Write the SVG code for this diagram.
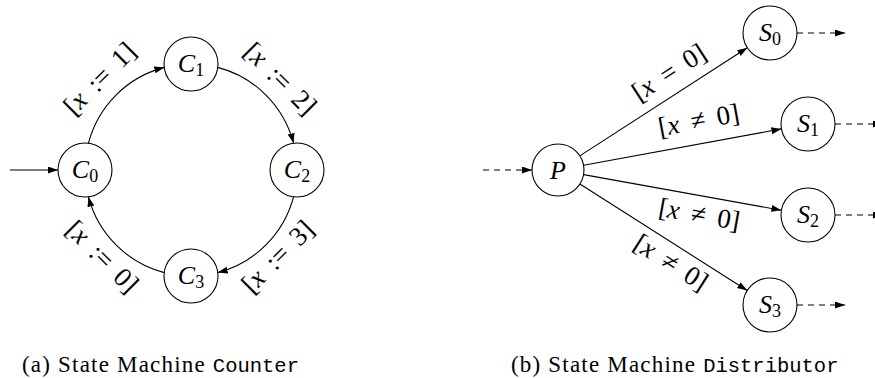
<svg xmlns="http://www.w3.org/2000/svg" width="875" height="378" viewBox="0 0 875 378">
<style>
.node circle{fill:#fff;stroke:#000;stroke-width:1.1}
.lbl{font-family:"Liberation Serif","DejaVu Serif",serif;font-size:27px;fill:#000}
.nl{font-family:"Liberation Serif","DejaVu Serif",serif;font-size:26px;fill:#000}
.it{font-style:italic}
.sub{font-size:18px}
.edge{fill:none;stroke:#000;stroke-width:1.1;marker-end:url(#arr)}
.dash{stroke-dasharray:6 5}
.cap{font-family:"Liberation Serif","DejaVu Serif",serif;font-size:23px;letter-spacing:1.2px;fill:#000}
.tt{font-family:"Liberation Mono","DejaVu Sans Mono",monospace;font-size:20.5px;letter-spacing:0}
</style>
<defs>
<marker id="arr" markerUnits="userSpaceOnUse" markerWidth="11" markerHeight="8" refX="10" refY="3.5" orient="auto">
<path d="M0,0 L10,3.5 L0,7 Z" fill="#000"/>
</marker>
</defs>
<g id="connectors">
<path class="edge" d="M10,170 L58,170"/>
<path class="edge" d="M88.4,143.3 A106,106 0 0 1 164.3,67.4"/>
<path class="edge" d="M217.7,67.4 A106,106 0 0 1 293.6,143.3"/>
<path class="edge" d="M293.6,196.7 A106,106 0 0 1 217.7,272.6"/>
<path class="edge" d="M164.3,272.6 A106,106 0 0 1 88.4,196.7"/>
<path class="edge dash" d="M483,170 L532,170"/>
<path class="edge" d="M579.8,155.9 L747.3,47.7"/>
<path class="edge" d="M583.6,165.3 L781.4,128.9"/>
<path class="edge" d="M583.6,174.6 L781.4,210.2"/>
<path class="edge" d="M579.9,184 L747.2,290.5"/>
<path class="edge dash" d="M797,33 L845,33"/>
<path class="edge dash" d="M835,124 L883,124"/>
<path class="edge dash" d="M835,215 L883,215"/>
<path class="edge dash" d="M797,305 L845,305"/>
<g class="lbl" text-anchor="middle" word-spacing="5">
<text transform="translate(101,80) rotate(-45)" y="7">[<tspan class="it">x</tspan> := 1]</text>
<text transform="translate(279,80) rotate(45)" y="7">[<tspan class="it">x</tspan> := 2]</text>
<text transform="translate(279,258) rotate(-45)" y="7">[<tspan class="it">x</tspan> := 3]</text>
<text transform="translate(101,258) rotate(45)" y="7">[<tspan class="it">x</tspan> := 0]</text>
<text transform="translate(670,74) rotate(-32.9)" y="7">[<tspan class="it">x</tspan> = 0]</text>
<text transform="translate(699,122) rotate(-10.4)" y="7">[<tspan class="it">x</tspan> ≠ 0]</text>
<text transform="translate(699,216) rotate(10.2)" y="7">[<tspan class="it">x</tspan> ≠ 0]</text>
<text transform="translate(670,264) rotate(32.5)" y="7">[<tspan class="it">x</tspan> ≠ 0]</text>
</g>
</g>
<g id="C0" class="node"><circle cx="85" cy="170" r="27"/><text class="nl" x="85" y="178" text-anchor="middle"><tspan class="it">C</tspan><tspan class="sub" dy="4">0</tspan></text></g>
<g id="C1" class="node"><circle cx="191" cy="64" r="27"/><text class="nl" x="191" y="72" text-anchor="middle"><tspan class="it">C</tspan><tspan class="sub" dy="4">1</tspan></text></g>
<g id="C2" class="node"><circle cx="297" cy="170" r="27"/><text class="nl" x="297" y="178" text-anchor="middle"><tspan class="it">C</tspan><tspan class="sub" dy="4">2</tspan></text></g>
<g id="C3" class="node"><circle cx="191" cy="276" r="27"/><text class="nl" x="191" y="284" text-anchor="middle"><tspan class="it">C</tspan><tspan class="sub" dy="4">3</tspan></text></g>
<g id="P" class="node"><circle cx="558" cy="170" r="26"/><text class="nl it" x="558" y="179" text-anchor="middle">P</text></g>
<g id="S0" class="node"><circle cx="770" cy="33" r="27"/><text class="nl" x="770" y="41" text-anchor="middle"><tspan class="it">S</tspan><tspan class="sub" dy="4">0</tspan></text></g>
<g id="S1" class="node"><circle cx="808" cy="124" r="27"/><text class="nl" x="808" y="132" text-anchor="middle"><tspan class="it">S</tspan><tspan class="sub" dy="4">1</tspan></text></g>
<g id="S2" class="node"><circle cx="808" cy="215" r="27"/><text class="nl" x="808" y="223" text-anchor="middle"><tspan class="it">S</tspan><tspan class="sub" dy="4">2</tspan></text></g>
<g id="S3" class="node"><circle cx="770" cy="305" r="27"/><text class="nl" x="770" y="313" text-anchor="middle"><tspan class="it">S</tspan><tspan class="sub" dy="4">3</tspan></text></g>
<g id="captions">
<text class="cap" x="22" y="372">(a) State Machine <tspan class="tt">Counter</tspan></text>
<text class="cap" x="511" y="372">(b) State Machine <tspan class="tt">Distributor</tspan></text>
</g>
</svg>
